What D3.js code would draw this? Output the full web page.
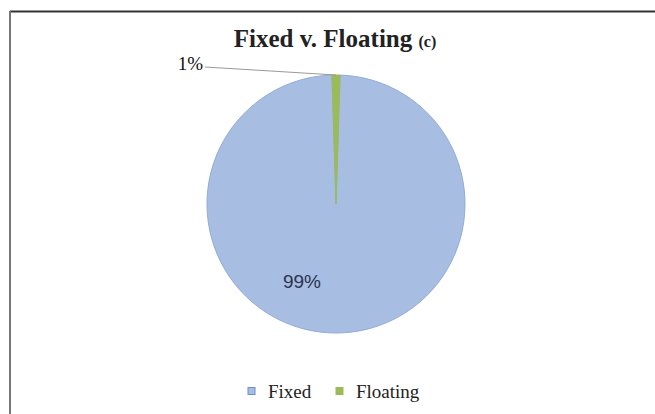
<!DOCTYPE html>
<html>
<head>
<meta charset="utf-8">
<script src="https://cdn.jsdelivr.net/npm/d3@7"></script>
<style>
  body { margin: 0; background: #fff; }
</style>
</head>
<body>
<div id="chart"></div>
<script>
// data
var categories = ['Fixed', 'Floating'];
var shares = [0.99, 0.01];
var sliceLabels = ['99%', '1%'];

var color = d3.scaleOrdinal()
    .domain(categories)
    .range(['#a8bde2', '#9bbb59']);

var svg = d3.select('#chart').append('svg')
    .attr('width', 655)
    .attr('height', 414);

var width = +svg.attr('width'),
    height = +svg.attr('height'),
    radius = 129,
    cx = 336, cy = 204;

// frame (only top and left edges show in the crop)
svg.append('line')
    .attr('x1', 10).attr('y1', 11.5).attr('x2', width).attr('y2', 11.5)
    .style('stroke', '#333').style('stroke-width', 2);
svg.append('line')
    .attr('x1', 10).attr('y1', 11).attr('x2', 10).attr('y2', height)
    .style('stroke', '#777').style('stroke-width', 2);

// title
var title = svg.append('text')
    .attr('x', 335)
    .attr('y', 47)
    .attr('text-anchor', 'middle')
    .style('font-family', 'Liberation Serif')
    .style('font-weight', 700)
    .style('fill', '#222');
title.append('tspan').style('font-size', '25px').text('Fixed v. Floating ');
title.append('tspan').style('font-size', '16px').text('(c)');

var g = svg.append('g')
    .attr('transform', 'translate(' + cx + ',' + cy + ')');

var pie = d3.pie()
    .sort(null)
    .startAngle(Math.PI * 0.01)
    .endAngle(Math.PI * 2.01);

var arcs = pie(shares);

var path = d3.arc()
    .outerRadius(radius)
    .innerRadius(0);

g.selectAll('.arc')
    .data(arcs)
    .enter()
    .append('path')
    .attr('class', 'arc')
    .attr('d', path)
    .attr('fill', (d, i) => color(categories[i]))
    .attr('stroke', (d, i) => i === 0 ? '#92abd6' : '#9bbb59')
    .attr('stroke-width', 1);

// 99% label inside
g.append('text')
    .attr('x', -34)
    .attr('y', 84)
    .attr('text-anchor', 'middle')
    .style('font-family', 'Liberation Sans')
    .style('font-size', '19px')
    .style('fill', '#2b3450')
    .text(sliceLabels[0]);

// 1% label with leader line
var mid = (arcs[1].startAngle + arcs[1].endAngle) / 2;
var edge = [Math.sin(mid) * radius, -Math.cos(mid) * radius];
g.append('line')
    .attr('x1', -131).attr('y1', -137)
    .attr('x2', edge[0]).attr('y2', edge[1])
    .style('stroke', '#999')
    .style('stroke-width', 1);
g.append('text')
    .attr('x', -133)
    .attr('y', -134)
    .attr('text-anchor', 'end')
    .style('font-family', 'Liberation Serif')
    .style('font-size', '19px')
    .style('fill', '#111')
    .text(sliceLabels[1]);

// legend
var legendX = [248, 336];
var legend = svg.selectAll('.legend')
    .data(categories)
    .enter()
    .append('g')
    .attr('class', 'legend')
    .attr('transform', (d, i) => 'translate(' + legendX[i] + ',391)');

legend.append('rect')
    .attr('x', 0).attr('y', -3.5)
    .attr('width', 7).attr('height', 7)
    .attr('fill', d => color(d))
    .attr('stroke', (d, i) => i === 0 ? '#6f8fc8' : '#9bbb59');

legend.append('text')
    .attr('x', 20)
    .attr('y', 7)
    .style('font-family', 'Liberation Serif')
    .style('font-size', '19px')
    .style('fill', '#222')
    .text(d => d);
</script>
</body>
</html>
